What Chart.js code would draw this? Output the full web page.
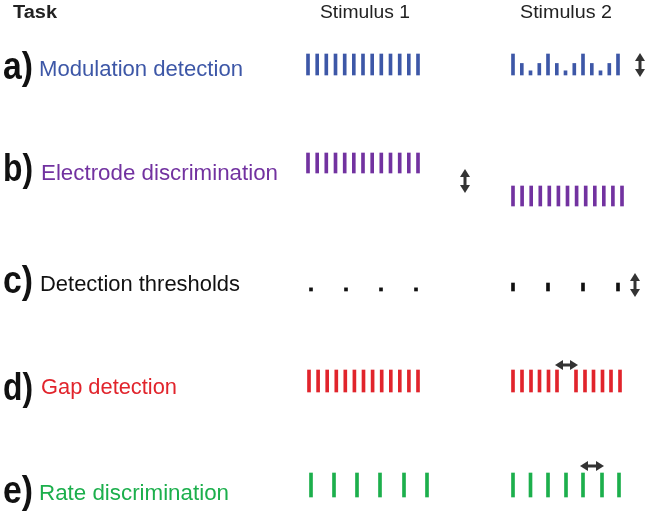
<!DOCTYPE html>
<html>
<head>
<meta charset="utf-8">
<script src="https://cdn.jsdelivr.net/npm/chart.js@4"></script>
<style>
  html, body { margin: 0; padding: 0; background: #fff; }
  .wrap { width: 650px; height: 512px; position: relative; }
</style>
</head>
<body>
<div class="wrap"><canvas id="tasks-chart"></canvas></div>
<script>
// labels
const headers = ['Task', 'Stimulus 1', 'Stimulus 2'];
const taskLetters = ['a)', 'b)', 'c)', 'd)', 'e)'];
const taskNames = ['Modulation detection', 'Electrode discrimination', 'Detection thresholds', 'Gap detection', 'Rate discrimination'];

// pulse times (relative to stimulus onset) and relative amplitudes
const modS1Times = [0, 9.2, 18.3, 27.5, 36.7, 45.8, 55, 64.2, 73.3, 82.5, 91.7, 100.8, 110];
const modS1Amps = [1, 1, 1, 1, 1, 1, 1, 1, 1, 1, 1, 1, 1];
const modS2Times = [0, 8.8, 17.5, 26.3, 35, 43.8, 52.5, 61.3, 70, 78.8, 87.5, 96.3, 105];
const modS2Amps = [1, 0.55, 0.2, 0.55, 1, 0.55, 0.2, 0.55, 1, 0.55, 0.2, 0.55, 1];

const elecS1Times = [0, 9.2, 18.3, 27.5, 36.7, 45.8, 55, 64.2, 73.3, 82.5, 91.7, 100.8, 110];
const elecS2Times = [0, 9.1, 18.2, 27.3, 36.3, 45.4, 54.5, 63.6, 72.7, 81.8, 90.8, 99.9, 109];
const elecPlace = [0, 1]; // electrode step for stimulus 1 / 2

const detS1Times = [3, 38, 73, 108];
const detS1Amps = [0.15, 0.15, 0.15, 0.15];
const detS2Times = [0, 35, 70, 105];
const detS2Amps = [0.38, 0.38, 0.38, 0.38];

const gapS1Times = [1, 10.1, 19.2, 28.3, 37.3, 46.4, 55.5, 64.6, 73.7, 82.8, 91.8, 100.9, 110];
const gapS2Times = [0, 9, 18, 26.5, 35.5, 44, 63, 72, 80.5, 89.5, 98, 107];

const rateS1Times = [3, 26, 49, 72, 96, 119];
const rateS2Times = [0, 17.5, 35, 53, 70, 89, 106];

// layout
const colStart = [308, 513];
const rowBase = [75, 173, 291, 392, 497];
const rowHeight = [21, 20, 21, 22, 24];
const elecStep = 33;
const colors = ['#3d57a7', '#7232a0', '#111111', '#e1242c', '#1caf4c'];

function pulses(row, col, times, amps, shift) {
  const base = rowBase[row] + (shift || 0);
  return times.map((t, i) => ({
    x: colStart[col] + t,
    y: [base - (amps ? amps[i] : 1) * rowHeight[row], base]
  }));
}

const rowsData = [
  pulses(0, 0, modS1Times, modS1Amps).concat(pulses(0, 1, modS2Times, modS2Amps)),
  pulses(1, 0, elecS1Times, null, elecPlace[0] * elecStep).concat(pulses(1, 1, elecS2Times, null, elecPlace[1] * elecStep)),
  pulses(2, 0, detS1Times, detS1Amps).concat(pulses(2, 1, detS2Times, detS2Amps)),
  pulses(3, 0, gapS1Times).concat(pulses(3, 1, gapS2Times)),
  pulses(4, 0, rateS1Times).concat(pulses(4, 1, rateS2Times))
];

// double arrows: [x1, y1, x2, y2]
const arrows = [
  [640, 53, 640, 77],
  [465, 169, 465, 193],
  [635, 273, 635, 297],
  [555, 365, 578, 365],
  [580, 466, 604, 466]
];

function fitText(ctx, s, x, y, font, color, w) {
  ctx.save();
  ctx.font = font;
  const m = ctx.measureText(s).width;
  ctx.translate(x, y);
  ctx.scale(w / m, 1);
  ctx.fillStyle = color;
  ctx.textBaseline = 'alphabetic';
  ctx.fillText(s, 0, 0);
  ctx.restore();
}

function head(ctx, x, y, ang) {
  const len = 8, half = 5;
  ctx.save();
  ctx.translate(x, y);
  ctx.rotate(ang);
  ctx.beginPath();
  ctx.moveTo(0, 0);
  ctx.lineTo(-len, -half);
  ctx.lineTo(-len, half);
  ctx.closePath();
  ctx.fill();
  ctx.restore();
}

const overlay = {
  id: 'overlay',
  afterDraw(chart) {
    const ctx = chart.ctx;
    const xs = chart.scales.x, ys = chart.scales.y;
    // headers
    fitText(ctx, headers[0], 13, 18, 'bold 18px "Liberation Sans", Arial', '#222', 44);
    fitText(ctx, headers[1], 320, 18, '18px "Liberation Sans", Arial', '#222', 90);
    fitText(ctx, headers[2], 520, 18, '18px "Liberation Sans", Arial', '#222', 92);
    // task labels
    const letterBase = [79, 181, 293, 400, 503];
    const nameBase = [76, 180, 291, 394, 500];
    const nameX = [39, 41, 40, 41, 39];
    const nameW = [204, 237, 200, 136, 190];
    taskLetters.forEach((l, i) => {
      fitText(ctx, l, 3, letterBase[i], 'bold 38px "Liberation Sans", Arial', '#111', 30);
      fitText(ctx, taskNames[i], nameX[i], nameBase[i], '22px "Liberation Sans", Arial', colors[i], nameW[i]);
    });
    // arrows
    ctx.save();
    ctx.strokeStyle = '#333';
    ctx.fillStyle = '#333';
    ctx.lineWidth = 3;
    arrows.forEach(a => {
      const x1 = xs.getPixelForValue(a[0]), y1 = ys.getPixelForValue(a[1]);
      const x2 = xs.getPixelForValue(a[2]), y2 = ys.getPixelForValue(a[3]);
      const ang = Math.atan2(y2 - y1, x2 - x1);
      const ux = Math.cos(ang) * 6, uy = Math.sin(ang) * 6;
      ctx.beginPath();
      ctx.moveTo(x1 + ux, y1 + uy);
      ctx.lineTo(x2 - ux, y2 - uy);
      ctx.stroke();
      head(ctx, x2, y2, ang);
      head(ctx, x1, y1, ang + Math.PI);
    });
    ctx.restore();
  }
};

const chart = new Chart(document.getElementById('tasks-chart'), {
  type: 'bar',
  data: {
    datasets: rowsData.map((d, i) => ({
      label: taskNames[i],
      data: d,
      backgroundColor: colors[i],
      borderWidth: 0,
      barThickness: 3,
      grouped: false
    }))
  },
  options: {
    responsive: true,
    maintainAspectRatio: false,
    animation: false,
    layout: { padding: 0 },
    plugins: {
      legend: { display: false },
      tooltip: { enabled: false }
    },
    scales: {
      x: { type: 'linear', min: 0, max: 650, offset: false, display: false },
      y: { type: 'linear', min: 0, max: 512, reverse: true, display: false }
    }
  },
  plugins: [overlay]
});
</script>
</body>
</html>
